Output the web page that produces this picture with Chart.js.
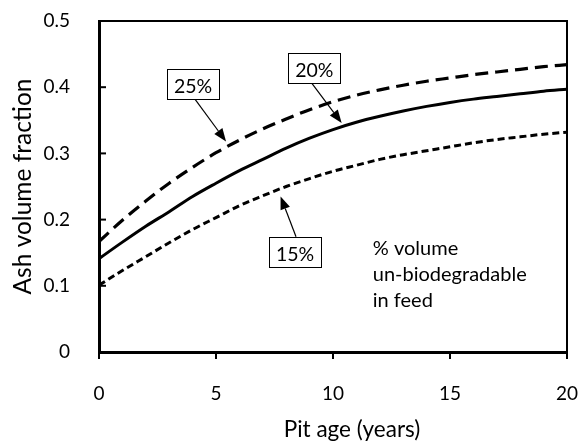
<!DOCTYPE html>
<html lang="en">
<head>
<meta charset="UTF-8">
<title>Ash volume fraction</title>
<script src="https://cdn.jsdelivr.net/npm/chart.js@4.4.0/dist/chart.umd.min.js"></script>
<style>
  html, body { margin: 0; padding: 0; background: #fff; }
</style>
</head>
<body>
<canvas id="ash-canvas" width="580" height="443"></canvas>
<script>
// pit age in years
var years = [0, 1, 2, 3, 4, 5, 6, 7, 8, 9, 10, 11, 12, 13, 14, 15, 16, 17, 18, 19, 20];

// ash volume fraction for 15 / 20 / 25 % un-biodegradable feed
var ash15 = [0.101, 0.123, 0.144, 0.165, 0.185, 0.203, 0.221, 0.236, 0.250, 0.262, 0.273,
             0.282, 0.291, 0.298, 0.304, 0.310, 0.316, 0.321, 0.325, 0.329, 0.332];
var ash20 = [0.141, 0.166, 0.190, 0.212, 0.235, 0.255, 0.274, 0.291, 0.308, 0.323, 0.336,
             0.347, 0.356, 0.364, 0.371, 0.377, 0.382, 0.386, 0.390, 0.394, 0.397];
var ash25 = [0.167, 0.199, 0.228, 0.255, 0.279, 0.301, 0.320, 0.337, 0.352, 0.366, 0.378,
             0.388, 0.396, 0.403, 0.409, 0.414, 0.419, 0.423, 0.427, 0.431, 0.434];

var xTicks = [0, 5, 10, 15, 20];
var yTicks = [0, 0.1, 0.2, 0.3, 0.4, 0.5];

// labelled arrows pointing at each curve (box centre, arrow tail, arrow tip in data units)
var callouts = [
    { text: '25%', box: [4.02, 0.405], tail: [4.10, 0.382], tip: [5.43, 0.318] },
    { text: '20%', box: [9.20, 0.429], tail: [9.09, 0.406], tip: [10.37, 0.346] },
    { text: '15%', box: [8.38, 0.151], tail: [8.42, 0.174], tip: [7.76, 0.235] }
];
var noteLines = ['% volume', 'un-biodegradable', 'in feed'];

var FONT = 'Lato, "Open Sans", sans-serif';

// plot margins
var MARGIN_TOP = 21, MARGIN_RIGHT = 13;

function pts(ys) {
    return years.map(function(x, i) { return { x: x, y: ys[i] }; });
}

function arrow(ctx, x0, y0, x1, y1) {
    var a = Math.atan2(y1 - y0, x1 - x0);
    var len = 13, half = 5;
    var bx = x1 - len * Math.cos(a), by = y1 - len * Math.sin(a);
    ctx.beginPath();
    ctx.moveTo(x0, y0);
    ctx.lineTo(bx, by);
    ctx.lineWidth = 1.2;
    ctx.stroke();
    ctx.beginPath();
    ctx.moveTo(x1, y1);
    ctx.lineTo(bx + half * Math.sin(a), by - half * Math.cos(a));
    ctx.lineTo(bx - half * Math.sin(a), by + half * Math.cos(a));
    ctx.closePath();
    ctx.fill();
}

var decorations = {
    id: 'decorations',
    afterDraw: function(chart) {
        var ctx = chart.ctx, area = chart.chartArea;
        var xs = chart.scales.x, ys = chart.scales.y;
        ctx.save();
        ctx.strokeStyle = '#000';
        ctx.fillStyle = '#000';

        // box round the plot
        ctx.lineWidth = 2;
        ctx.strokeRect(area.left, area.top, area.right - area.left, area.bottom - area.top);

        // y ticks point inward
        yTicks.forEach(function(v) {
            var y = ys.getPixelForValue(v);
            ctx.beginPath();
            ctx.moveTo(area.left, y);
            ctx.lineTo(area.left + 7, y);
            ctx.stroke();
        });

        // callouts
        ctx.font = '19.5px ' + FONT;
        ctx.textAlign = 'center';
        ctx.textBaseline = 'alphabetic';
        callouts.forEach(function(c) {
            var cx = xs.getPixelForValue(c.box[0]), cy = ys.getPixelForValue(c.box[1]);
            arrow(ctx, xs.getPixelForValue(c.tail[0]), ys.getPixelForValue(c.tail[1]),
                  xs.getPixelForValue(c.tip[0]), ys.getPixelForValue(c.tip[1]));
            var w = 52, h = 30;
            ctx.fillStyle = '#fff';
            ctx.fillRect(cx - w / 2, cy - h / 2, w, h);
            ctx.lineWidth = 1;
            ctx.strokeRect(Math.round(cx - w / 2) + 0.5, Math.round(cy - h / 2) + 0.5, w, h);
            ctx.fillStyle = '#000';
            ctx.fillText(c.text, cx, cy + 9);
        });

        // note text
        ctx.font = '20px ' + FONT;
        ctx.textAlign = 'left';
        var nx = xs.getPixelForValue(11.7), ny = ys.getPixelForValue(0.1465);
        noteLines.forEach(function(t, i) {
            ctx.fillText(t, nx, ny + i * 25.8);
        });

        // x axis title
        ctx.font = '22.5px ' + FONT;
        ctx.textAlign = 'center';
        ctx.fillText('Pit age (years)', (area.left + area.right) / 2 + 19, 437);
        ctx.restore();
    }
};

Chart.defaults.font.family = FONT;
Chart.defaults.font.size = 19;
Chart.defaults.color = '#000';

new Chart(document.getElementById('ash-canvas').getContext('2d'), {
    type: 'line',
    data: {
        datasets: [
            { label: '25%', data: pts(ash25), borderColor: '#000', borderWidth: 3.2, borderDash: [13, 7] },
            { label: '20%', data: pts(ash20), borderColor: '#000', borderWidth: 3 },
            { label: '15%', data: pts(ash15), borderColor: '#000', borderWidth: 3, borderDash: [7, 4] }
        ]
    },
    options: {
        responsive: false,
        animation: false,
        layout: { padding: { left: 0, right: MARGIN_RIGHT, top: MARGIN_TOP, bottom: 0 } },
        elements: {
            point: { radius: 0 },
            line: { tension: 0.4, cubicInterpolationMode: 'monotone', borderCapStyle: 'butt' }
        },
        plugins: { legend: { display: false }, tooltip: { enabled: false } },
        scales: {
            x: {
                type: 'linear',
                min: 0, max: 20,
                afterBuildTicks: function(s) { s.ticks = xTicks.map(function(v) { return { value: v }; }); },
                afterFit: function(s) {
                    s.height = 91;
                    s.paddingLeft = 0;
                    s.paddingRight = MARGIN_RIGHT;
                },
                grid: { drawOnChartArea: false, drawTicks: true, tickLength: 7, color: '#000', lineWidth: 2 },
                border: { display: true, color: '#000', width: 3 },
                ticks: { padding: 23 }
            },
            y: {
                min: 0, max: 0.5,
                afterBuildTicks: function(s) { s.ticks = yTicks.map(function(v) { return { value: v }; }); },
                afterFit: function(s) {
                    s.width = 99;
                    s.paddingTop = MARGIN_TOP;
                    s.paddingBottom = 0;
                },
                grid: { display: false },
                border: { display: true, color: '#000', width: 3 },
                ticks: { padding: 21 },
                title: { display: true, text: 'Ash volume fraction', font: { size: 24.5 }, padding: { top: 8, bottom: 0 } }
            }
        }
    },
    plugins: [decorations]
});
</script>
</body>
</html>
